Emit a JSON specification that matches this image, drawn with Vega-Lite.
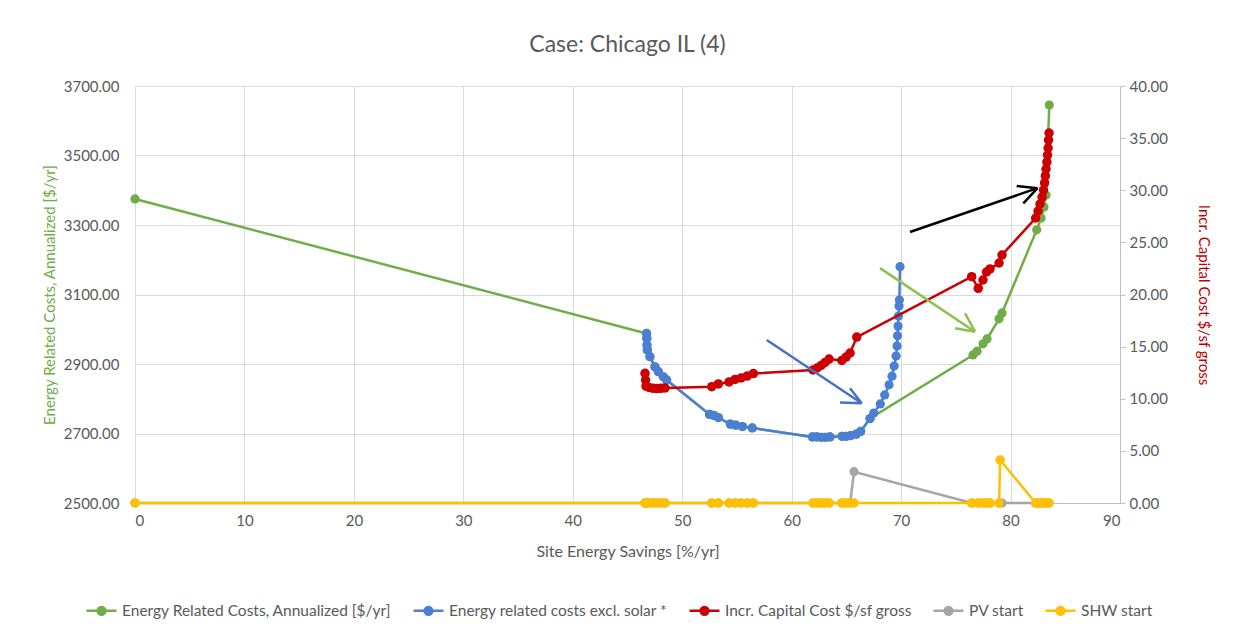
{
  "$schema": "https://vega.github.io/schema/vega-lite/v6.json",
  "width": 985,
  "height": 417,
  "autosize": "none",
  "padding": {"left": 135, "top": 86, "right": 115, "bottom": 135},
  "background": "white",
  "title": {"text": "Case: Chicago IL (4)", "fontSize": 23, "fontWeight": "normal", "color": "#595959", "offset": 22},
  "config": {"font": "Lato", "view": {"stroke": null}},
  "datasets": {
    "main": [
      {"series": "Energy Related Costs, Annualized [$/yr]", "x": 0, "v": 3375},
      {"series": "Energy Related Costs, Annualized [$/yr]", "x": 46.74, "v": 2988},
      {"series": "Energy Related Costs, Annualized [$/yr]", "x": 46.76, "v": 2974},
      {"series": "Energy Related Costs, Annualized [$/yr]", "x": 46.78, "v": 2955},
      {"series": "Energy Related Costs, Annualized [$/yr]", "x": 46.81, "v": 2940},
      {"series": "Energy Related Costs, Annualized [$/yr]", "x": 47.05, "v": 2921},
      {"series": "Energy Related Costs, Annualized [$/yr]", "x": 47.51, "v": 2892},
      {"series": "Energy Related Costs, Annualized [$/yr]", "x": 47.82, "v": 2878},
      {"series": "Energy Related Costs, Annualized [$/yr]", "x": 48.27, "v": 2863},
      {"series": "Energy Related Costs, Annualized [$/yr]", "x": 48.58, "v": 2854},
      {"series": "Energy Related Costs, Annualized [$/yr]", "x": 52.5, "v": 2755},
      {"series": "Energy Related Costs, Annualized [$/yr]", "x": 52.9, "v": 2752},
      {"series": "Energy Related Costs, Annualized [$/yr]", "x": 53.3, "v": 2746},
      {"series": "Energy Related Costs, Annualized [$/yr]", "x": 54.4, "v": 2727},
      {"series": "Energy Related Costs, Annualized [$/yr]", "x": 54.9, "v": 2724},
      {"series": "Energy Related Costs, Annualized [$/yr]", "x": 55.5, "v": 2720},
      {"series": "Energy Related Costs, Annualized [$/yr]", "x": 56.4, "v": 2716},
      {"series": "Energy Related Costs, Annualized [$/yr]", "x": 61.9, "v": 2690},
      {"series": "Energy Related Costs, Annualized [$/yr]", "x": 62.3, "v": 2690},
      {"series": "Energy Related Costs, Annualized [$/yr]", "x": 62.7, "v": 2689},
      {"series": "Energy Related Costs, Annualized [$/yr]", "x": 63.1, "v": 2689},
      {"series": "Energy Related Costs, Annualized [$/yr]", "x": 63.5, "v": 2690},
      {"series": "Energy Related Costs, Annualized [$/yr]", "x": 64.6, "v": 2692},
      {"series": "Energy Related Costs, Annualized [$/yr]", "x": 65.0, "v": 2692},
      {"series": "Energy Related Costs, Annualized [$/yr]", "x": 65.4, "v": 2694},
      {"series": "Energy Related Costs, Annualized [$/yr]", "x": 65.9, "v": 2698},
      {"series": "Energy Related Costs, Annualized [$/yr]", "x": 66.3, "v": 2706},
      {"series": "Energy Related Costs, Annualized [$/yr]", "x": 67.16, "v": 2743},
      {"series": "Energy Related Costs, Annualized [$/yr]", "x": 76.57, "v": 2926},
      {"series": "Energy Related Costs, Annualized [$/yr]", "x": 76.94, "v": 2937},
      {"series": "Energy Related Costs, Annualized [$/yr]", "x": 77.49, "v": 2958},
      {"series": "Energy Related Costs, Annualized [$/yr]", "x": 77.85, "v": 2972},
      {"series": "Energy Related Costs, Annualized [$/yr]", "x": 78.95, "v": 3030},
      {"series": "Energy Related Costs, Annualized [$/yr]", "x": 79.22, "v": 3047},
      {"series": "Energy Related Costs, Annualized [$/yr]", "x": 82.39, "v": 3286},
      {"series": "Energy Related Costs, Annualized [$/yr]", "x": 82.79, "v": 3320},
      {"series": "Energy Related Costs, Annualized [$/yr]", "x": 83.06, "v": 3352},
      {"series": "Energy Related Costs, Annualized [$/yr]", "x": 83.24, "v": 3386},
      {"series": "Energy Related Costs, Annualized [$/yr]", "x": 83.54, "v": 3645},

      {"series": "Energy related costs excl. solar *", "x": 46.74, "v": 2988},
      {"series": "Energy related costs excl. solar *", "x": 46.76, "v": 2974},
      {"series": "Energy related costs excl. solar *", "x": 46.78, "v": 2955},
      {"series": "Energy related costs excl. solar *", "x": 46.81, "v": 2940},
      {"series": "Energy related costs excl. solar *", "x": 47.05, "v": 2921},
      {"series": "Energy related costs excl. solar *", "x": 47.51, "v": 2892},
      {"series": "Energy related costs excl. solar *", "x": 47.82, "v": 2878},
      {"series": "Energy related costs excl. solar *", "x": 48.27, "v": 2863},
      {"series": "Energy related costs excl. solar *", "x": 48.58, "v": 2854},
      {"series": "Energy related costs excl. solar *", "x": 52.5, "v": 2755},
      {"series": "Energy related costs excl. solar *", "x": 52.9, "v": 2752},
      {"series": "Energy related costs excl. solar *", "x": 53.3, "v": 2746},
      {"series": "Energy related costs excl. solar *", "x": 54.4, "v": 2727},
      {"series": "Energy related costs excl. solar *", "x": 54.9, "v": 2724},
      {"series": "Energy related costs excl. solar *", "x": 55.5, "v": 2720},
      {"series": "Energy related costs excl. solar *", "x": 56.4, "v": 2716},
      {"series": "Energy related costs excl. solar *", "x": 61.9, "v": 2690},
      {"series": "Energy related costs excl. solar *", "x": 62.3, "v": 2690},
      {"series": "Energy related costs excl. solar *", "x": 62.7, "v": 2689},
      {"series": "Energy related costs excl. solar *", "x": 63.1, "v": 2689},
      {"series": "Energy related costs excl. solar *", "x": 63.5, "v": 2690},
      {"series": "Energy related costs excl. solar *", "x": 64.6, "v": 2692},
      {"series": "Energy related costs excl. solar *", "x": 65.0, "v": 2692},
      {"series": "Energy related costs excl. solar *", "x": 65.4, "v": 2694},
      {"series": "Energy related costs excl. solar *", "x": 65.9, "v": 2698},
      {"series": "Energy related costs excl. solar *", "x": 66.3, "v": 2706},
      {"series": "Energy related costs excl. solar *", "x": 67.16, "v": 2743},
      {"series": "Energy related costs excl. solar *", "x": 67.5, "v": 2759},
      {"series": "Energy related costs excl. solar *", "x": 68.1, "v": 2785},
      {"series": "Energy related costs excl. solar *", "x": 68.5, "v": 2811},
      {"series": "Energy related costs excl. solar *", "x": 68.9, "v": 2840},
      {"series": "Energy related costs excl. solar *", "x": 69.17, "v": 2865},
      {"series": "Energy related costs excl. solar *", "x": 69.36, "v": 2894},
      {"series": "Energy related costs excl. solar *", "x": 69.54, "v": 2923},
      {"series": "Energy related costs excl. solar *", "x": 69.63, "v": 2952},
      {"series": "Energy related costs excl. solar *", "x": 69.67, "v": 2981},
      {"series": "Energy related costs excl. solar *", "x": 69.72, "v": 3009},
      {"series": "Energy related costs excl. solar *", "x": 69.76, "v": 3038},
      {"series": "Energy related costs excl. solar *", "x": 69.81, "v": 3067},
      {"series": "Energy related costs excl. solar *", "x": 69.84, "v": 3084},
      {"series": "Energy related costs excl. solar *", "x": 69.9, "v": 3180},

      {"series": "Incr. Capital Cost $/sf gross", "x": 46.6, "v": 12.44},
      {"series": "Incr. Capital Cost $/sf gross", "x": 46.65, "v": 11.8},
      {"series": "Incr. Capital Cost $/sf gross", "x": 46.69, "v": 11.22},
      {"series": "Incr. Capital Cost $/sf gross", "x": 46.97, "v": 11.08},
      {"series": "Incr. Capital Cost $/sf gross", "x": 47.33, "v": 11.0},
      {"series": "Incr. Capital Cost $/sf gross", "x": 47.7, "v": 10.98},
      {"series": "Incr. Capital Cost $/sf gross", "x": 48.06, "v": 11.0},
      {"series": "Incr. Capital Cost $/sf gross", "x": 48.43, "v": 11.03},
      {"series": "Incr. Capital Cost $/sf gross", "x": 52.7, "v": 11.16},
      {"series": "Incr. Capital Cost $/sf gross", "x": 53.3, "v": 11.42},
      {"series": "Incr. Capital Cost $/sf gross", "x": 54.28, "v": 11.61},
      {"series": "Incr. Capital Cost $/sf gross", "x": 54.83, "v": 11.85},
      {"series": "Incr. Capital Cost $/sf gross", "x": 55.38, "v": 11.99},
      {"series": "Incr. Capital Cost $/sf gross", "x": 55.93, "v": 12.18},
      {"series": "Incr. Capital Cost $/sf gross", "x": 56.5, "v": 12.42},
      {"series": "Incr. Capital Cost $/sf gross", "x": 61.95, "v": 12.76},
      {"series": "Incr. Capital Cost $/sf gross", "x": 62.32, "v": 12.95},
      {"series": "Incr. Capital Cost $/sf gross", "x": 62.69, "v": 13.19},
      {"series": "Incr. Capital Cost $/sf gross", "x": 63.05, "v": 13.48},
      {"series": "Incr. Capital Cost $/sf gross", "x": 63.42, "v": 13.81},
      {"series": "Incr. Capital Cost $/sf gross", "x": 64.58, "v": 13.67},
      {"series": "Incr. Capital Cost $/sf gross", "x": 64.97, "v": 14.0},
      {"series": "Incr. Capital Cost $/sf gross", "x": 65.34, "v": 14.39},
      {"series": "Incr. Capital Cost $/sf gross", "x": 65.95, "v": 15.92},
      {"series": "Incr. Capital Cost $/sf gross", "x": 76.45, "v": 21.71},
      {"series": "Incr. Capital Cost $/sf gross", "x": 77.05, "v": 20.59},
      {"series": "Incr. Capital Cost $/sf gross", "x": 77.48, "v": 21.39},
      {"series": "Incr. Capital Cost $/sf gross", "x": 77.8, "v": 22.16},
      {"series": "Incr. Capital Cost $/sf gross", "x": 78.12, "v": 22.45},
      {"series": "Incr. Capital Cost $/sf gross", "x": 78.95, "v": 23.02},
      {"series": "Incr. Capital Cost $/sf gross", "x": 79.22, "v": 23.79},
      {"series": "Incr. Capital Cost $/sf gross", "x": 82.29, "v": 27.34},
      {"series": "Incr. Capital Cost $/sf gross", "x": 82.51, "v": 28.01},
      {"series": "Incr. Capital Cost $/sf gross", "x": 82.69, "v": 28.68},
      {"series": "Incr. Capital Cost $/sf gross", "x": 82.88, "v": 29.35},
      {"series": "Incr. Capital Cost $/sf gross", "x": 83.01, "v": 30.02},
      {"series": "Incr. Capital Cost $/sf gross", "x": 83.11, "v": 30.7},
      {"series": "Incr. Capital Cost $/sf gross", "x": 83.18, "v": 31.37},
      {"series": "Incr. Capital Cost $/sf gross", "x": 83.24, "v": 32.04},
      {"series": "Incr. Capital Cost $/sf gross", "x": 83.32, "v": 32.71},
      {"series": "Incr. Capital Cost $/sf gross", "x": 83.38, "v": 33.38},
      {"series": "Incr. Capital Cost $/sf gross", "x": 83.43, "v": 34.05},
      {"series": "Incr. Capital Cost $/sf gross", "x": 83.47, "v": 34.82},
      {"series": "Incr. Capital Cost $/sf gross", "x": 83.52, "v": 35.49},

      {"series": "PV start", "x": 0, "v": 0},
      {"series": "PV start", "x": 46.6, "v": 0},
      {"series": "PV start", "x": 46.65, "v": 0},
      {"series": "PV start", "x": 46.69, "v": 0},
      {"series": "PV start", "x": 46.97, "v": 0},
      {"series": "PV start", "x": 47.33, "v": 0},
      {"series": "PV start", "x": 47.7, "v": 0},
      {"series": "PV start", "x": 48.06, "v": 0},
      {"series": "PV start", "x": 48.43, "v": 0},
      {"series": "PV start", "x": 52.7, "v": 0},
      {"series": "PV start", "x": 53.3, "v": 0},
      {"series": "PV start", "x": 54.28, "v": 0},
      {"series": "PV start", "x": 54.83, "v": 0},
      {"series": "PV start", "x": 55.38, "v": 0},
      {"series": "PV start", "x": 55.93, "v": 0},
      {"series": "PV start", "x": 56.5, "v": 0},
      {"series": "PV start", "x": 61.95, "v": 0},
      {"series": "PV start", "x": 62.32, "v": 0},
      {"series": "PV start", "x": 62.69, "v": 0},
      {"series": "PV start", "x": 63.05, "v": 0},
      {"series": "PV start", "x": 63.42, "v": 0},
      {"series": "PV start", "x": 64.58, "v": 0},
      {"series": "PV start", "x": 64.97, "v": 0},
      {"series": "PV start", "x": 65.34, "v": 0},
      {"series": "PV start", "x": 65.7, "v": 3.0},
      {"series": "PV start", "x": 76.45, "v": 0},
      {"series": "PV start", "x": 77.05, "v": 0},
      {"series": "PV start", "x": 77.48, "v": 0},
      {"series": "PV start", "x": 77.8, "v": 0},
      {"series": "PV start", "x": 78.12, "v": 0},
      {"series": "PV start", "x": 78.95, "v": 0},
      {"series": "PV start", "x": 79.22, "v": 0},
      {"series": "PV start", "x": 82.29, "v": 0},
      {"series": "PV start", "x": 82.69, "v": 0},
      {"series": "PV start", "x": 83.01, "v": 0},
      {"series": "PV start", "x": 83.24, "v": 0},
      {"series": "PV start", "x": 83.52, "v": 0},

      {"series": "SHW start", "x": 0, "v": 0},
      {"series": "SHW start", "x": 46.6, "v": 0},
      {"series": "SHW start", "x": 46.65, "v": 0},
      {"series": "SHW start", "x": 46.69, "v": 0},
      {"series": "SHW start", "x": 46.97, "v": 0},
      {"series": "SHW start", "x": 47.33, "v": 0},
      {"series": "SHW start", "x": 47.7, "v": 0},
      {"series": "SHW start", "x": 48.06, "v": 0},
      {"series": "SHW start", "x": 48.43, "v": 0},
      {"series": "SHW start", "x": 52.7, "v": 0},
      {"series": "SHW start", "x": 53.3, "v": 0},
      {"series": "SHW start", "x": 54.28, "v": 0},
      {"series": "SHW start", "x": 54.83, "v": 0},
      {"series": "SHW start", "x": 55.38, "v": 0},
      {"series": "SHW start", "x": 55.93, "v": 0},
      {"series": "SHW start", "x": 56.5, "v": 0},
      {"series": "SHW start", "x": 61.95, "v": 0},
      {"series": "SHW start", "x": 62.32, "v": 0},
      {"series": "SHW start", "x": 62.69, "v": 0},
      {"series": "SHW start", "x": 63.05, "v": 0},
      {"series": "SHW start", "x": 63.42, "v": 0},
      {"series": "SHW start", "x": 64.58, "v": 0},
      {"series": "SHW start", "x": 64.97, "v": 0},
      {"series": "SHW start", "x": 65.34, "v": 0},
      {"series": "SHW start", "x": 65.7, "v": 0},
      {"series": "SHW start", "x": 76.45, "v": 0},
      {"series": "SHW start", "x": 77.05, "v": 0},
      {"series": "SHW start", "x": 77.48, "v": 0},
      {"series": "SHW start", "x": 77.8, "v": 0},
      {"series": "SHW start", "x": 78.12, "v": 0},
      {"series": "SHW start", "x": 78.95, "v": 0},
      {"series": "SHW start", "x": 79.05, "v": 4.13},
      {"series": "SHW start", "x": 82.29, "v": 0},
      {"series": "SHW start", "x": 82.51, "v": 0},
      {"series": "SHW start", "x": 82.69, "v": 0},
      {"series": "SHW start", "x": 82.88, "v": 0},
      {"series": "SHW start", "x": 83.01, "v": 0},
      {"series": "SHW start", "x": 83.18, "v": 0},
      {"series": "SHW start", "x": 83.32, "v": 0},
      {"series": "SHW start", "x": 83.52, "v": 0}
    ],
    "arrows": [
      {"a": "blue", "x": 57.72, "v": 2969, "x2": 66.4, "v2": 2787},
      {"a": "blue", "x": 64.42, "v": 2789, "x2": 66.4, "v2": 2787},
      {"a": "blue", "x": 65.33, "v": 2830, "x2": 66.4, "v2": 2787},
      {"a": "green", "x": 68.07, "v": 3176, "x2": 76.75, "v2": 2993},
      {"a": "green", "x": 74.93, "v": 3003, "x2": 76.75, "v2": 2993},
      {"a": "green", "x": 75.84, "v": 3046, "x2": 76.75, "v2": 2993},
      {"a": "black", "x": 70.81, "v": 3280, "x2": 82.46, "v2": 3406},
      {"a": "black", "x": 80.56, "v": 3412, "x2": 82.46, "v2": 3406},
      {"a": "black", "x": 81.17, "v": 3362, "x2": 82.46, "v2": 3406}
    ]
  },
  "encoding": {
    "x": {
      "field": "x", "type": "quantitative",
      "scale": {"domain": [0, 90], "nice": false, "zero": false},
      "axis": {
        "values": [0, 10, 20, 30, 40, 50, 60, 70, 80, 90], "format": "d",
        "title": "Site Energy Savings [%/yr]",
        "grid": true, "gridColor": "#D9D9D9", "domainColor": "#BFBFBF", "ticks": false,
        "labelPadding": 10, "titlePadding": 15, "labelFontSize": 15, "titleFontSize": 16,
        "titleFontWeight": "normal", "labelColor": "#595959", "titleColor": "#595959"
      }
    }
  },
  "layer": [
    {
      "encoding": {
        "y": {
          "field": "v", "type": "quantitative",
          "scale": {"domain": [2500, 3700], "nice": false, "zero": false},
          "axis": {
            "values": [2500, 2700, 2900, 3100, 3300, 3500, 3700], "format": ".2f",
            "title": "Energy Related Costs, Annualized [$/yr]", "titleColor": "#70AD47",
            "grid": true, "gridColor": "#D9D9D9", "domainColor": "#D9D9D9", "ticks": false,
            "labelPadding": 16, "titlePadding": 6, "labelFontSize": 15, "titleFontSize": 15,
            "titleFontWeight": "normal", "labelColor": "#595959"
          }
        }
      },
      "layer": [
        {
          "data": {"name": "main"},
          "transform": [{"filter": "datum.series === 'Energy Related Costs, Annualized [$/yr]'"}],
          "mark": {"type": "line", "strokeWidth": 2.5, "point": {"filled": true, "size": 85, "opacity": 1}},
          "encoding": {
            "color": {
              "field": "series", "type": "nominal",
              "scale": {
                "domain": ["Energy Related Costs, Annualized [$/yr]", "Energy related costs excl. solar *", "Incr. Capital Cost $/sf gross", "PV start", "SHW start"],
                "range": ["#70AD47", "#4A7FD4", "#CC0000", "#A5A5A5", "#FFC000"]
              },
              "legend": {
                "title": null, "orient": "none", "direction": "horizontal", "columns": 5,
                "legendX": -50, "legendY": 508,
                "symbolType": "M-1,0H1M-0.26,0A0.26,0.26,0,1,0,0.26,0A0.26,0.26,0,1,0,-0.26,0Z",
                "symbolSize": 900, "symbolStrokeWidth": 2.5,
                "labelFontSize": 15.5, "labelColor": "#595959", "labelLimit": 400,
                "columnPadding": 16, "labelOffset": 4
              }
            }
          }
        },
        {
          "data": {"name": "main"},
          "transform": [{"filter": "datum.series === 'Energy related costs excl. solar *'"}],
          "mark": {"type": "line", "strokeWidth": 2.5, "point": {"filled": true, "size": 85, "opacity": 1}},
          "encoding": {"color": {"field": "series", "type": "nominal"}}
        }
      ]
    },
    {
      "encoding": {
        "y": {
          "field": "v", "type": "quantitative",
          "scale": {"domain": [0, 40], "nice": false, "zero": false},
          "axis": {
            "orient": "right",
            "values": [0, 5, 10, 15, 20, 25, 30, 35, 40], "format": ".2f",
            "title": "Incr. Capital Cost $/sf gross", "titleColor": "#C00000",
            "grid": false, "domainColor": "#BFBFBF", "ticks": true, "tickColor": "#BFBFBF", "tickSize": 5,
            "labelPadding": 4, "titlePadding": 28, "labelFontSize": 15, "titleFontSize": 15,
            "titleFontWeight": "normal", "labelColor": "#595959"
          }
        }
      },
      "layer": [
        {
          "data": {"name": "main"},
          "transform": [{"filter": "datum.series === 'Incr. Capital Cost $/sf gross'"}],
          "mark": {"type": "line", "strokeWidth": 2.5, "point": {"filled": true, "size": 90, "opacity": 1}},
          "encoding": {"color": {"field": "series", "type": "nominal"}}
        },
        {
          "data": {"name": "main"},
          "transform": [{"filter": "datum.series === 'PV start'"}],
          "mark": {"type": "line", "strokeWidth": 2.5, "point": {"filled": true, "size": 85, "opacity": 1}},
          "encoding": {"color": {"field": "series", "type": "nominal"}}
        },
        {
          "data": {"name": "main"},
          "transform": [{"filter": "datum.series === 'SHW start'"}],
          "mark": {"type": "line", "strokeWidth": 2.5, "point": {"filled": true, "size": 90, "opacity": 1}},
          "encoding": {"color": {"field": "series", "type": "nominal"}}
        }
      ]
    },
    {
      "data": {"name": "arrows"},
      "encoding": {
        "y": {"field": "v", "type": "quantitative", "scale": {"domain": [2500, 3700], "nice": false, "zero": false}, "axis": null},
        "x2": {"field": "x2"},
        "y2": {"field": "v2"}
      },
      "layer": [
        {"transform": [{"filter": "datum.a === 'blue'"}], "mark": {"type": "rule", "color": "#4472C4", "strokeWidth": 2.5}},
        {"transform": [{"filter": "datum.a === 'green'"}], "mark": {"type": "rule", "color": "#8DC04F", "strokeWidth": 2.5}},
        {"transform": [{"filter": "datum.a === 'black'"}], "mark": {"type": "rule", "color": "#000000", "strokeWidth": 2.5}}
      ]
    }
  ],
  "resolve": {"scale": {"y": "independent"}}
}
